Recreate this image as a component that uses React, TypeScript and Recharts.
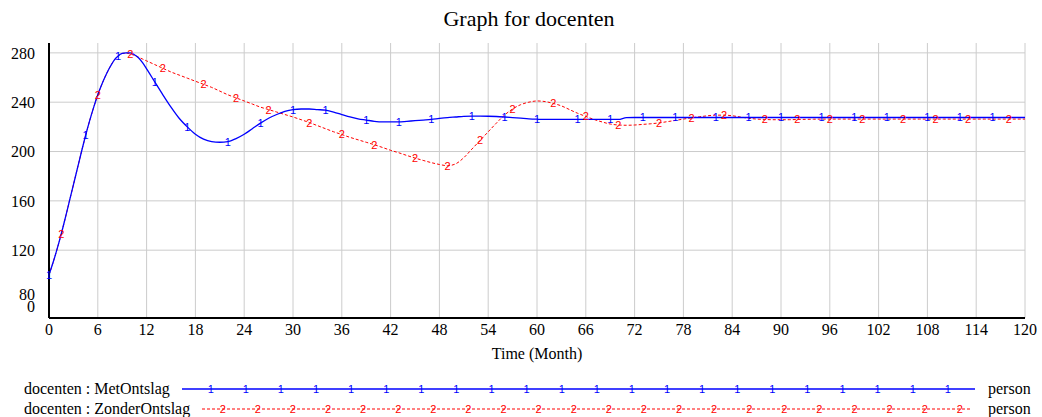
import React from "react";
import { LineChart, Line, XAxis, YAxis, CartesianGrid } from "recharts";

// time axis in months: half-month samples over the fast rise, then monthly
const months = [
  0, 0.5, 1, 1.5, 2, 2.5, 3, 3.5, 4, 4.5, 5, 5.5, 6, 6.5, 7, 7.5, 8, 8.5, 9, 9.5, 10, 10.5, 11, 11.5, 12,
  ...Array.from({ length: 108 }, (_, i) => 13 + i),
];

// docenten : MetOntslag (person)
const metOntslag = [
  100, 110, 121, 133, 146, 159.5, 173, 186.5, 200, 213, 225, 236, 246, 254.5, 262, 268.5, 274, 277.5, 279.5, 280, 280, 278.5, 276, 272, 267,
  256.5, 246, 236, 227, 220, 214, 210,
  208, 207.5, 208, 210.5, 214, 218.5, 223, 227, 230, 232.5,
  234, 234.5, 234.5, 234, 233.5, 232, 230, 228, 226.5, 225.5,
  224.5, 224, 224, 224, 224.5, 225, 225.5, 226, 226.8, 227.5,
  228, 228.5, 228.7, 228.7, 228.6, 228.4, 228, 227.5, 227, 226.5,
  226.2, 226, 226, 226, 226, 226, 226, 226, 226, 226,
  226, 227.5,
  227.6, 227.6, 227.6, 227.6, 227.6, 227.6, 227.6, 227.6, 227.6, 227.6,
  227.6, 227.6, 227.6, 227.6, 227.6, 227.6, 227.6, 227.6, 227.6, 227.6,
  227.6, 227.6, 227.6, 227.6, 227.6, 227.6, 227.6, 227.6, 227.6, 227.6,
  227.6, 227.6, 227.6, 227.6, 227.6, 227.6, 227.6, 227.6, 227.6, 227.6,
  227.6, 227.6, 227.6, 227.6, 227.6, 227.6, 227.6, 227.6, 227.6,
];

// docenten : ZonderOntslag (person)
const zonderOntslag = [
  100, 110, 121, 133, 146, 159.5, 173, 186.5, 200, 213, 225, 236, 246, 254.5, 262, 268.5, 274, 277.5, 279.5, 279.8, 279, 278, 276.5, 275, 273.5,
  270.5, 267.5, 264.5, 262, 259.5, 257, 254.5,
  252, 249, 246, 243.5, 241, 238.5, 236, 234, 232, 230,
  228, 225.8, 223.5, 221, 218.5, 216, 213.8, 211.5, 209.5, 207.5,
  205.5, 203.3, 201, 199, 196.8, 194.7, 192.8, 191, 189.5, 188.5,
  190, 195, 202, 209, 216, 223, 229.5, 234.5, 238, 240,
  241, 240.5, 239, 237, 234, 231, 228.5, 226, 224, 222.3,
  221.5, 221.3, 221.5, 222, 222.5, 223.2, 224.2, 225.2, 226.3, 227.3,
  228.2, 229, 229.5, 229.5, 229, 228, 227, 226.3, 226, 225.8,
  225.8, 225.8, 226, 226.1, 226.2, 226.3, 226.3, 226.3, 226.3, 226.3,
  226.3, 226.3, 226.3, 226.3, 226.3, 226.3, 226.3, 226.3, 226.3, 226.3,
  226.3, 226.3, 226.3, 226.3, 226.3, 226.3, 226.3, 226.3, 226.3, 226.3,
  226.3,
];

// months where the "1" / "2" line labels sit
const metMarks = [0, 4.5, 8.5, 13, 17, 22, 26, 30, 34, 39, 43, 47, 52, 56, 60, 65, 69, 73, 77, 82, 86, 90, 95, 99, 103, 108, 112, 116];
const zonderMarks = [1.5, 6, 10, 14, 19, 23, 27, 32, 36, 40, 45, 49, 53, 57, 62, 66, 70, 75, 79, 83, 88, 92, 96, 100, 105, 109, 113, 118];

const xTicks = [0, 6, 12, 18, 24, 30, 36, 42, 48, 54, 60, 66, 72, 78, 84, 90, 96, 102, 108, 114, 120];
const yTicks = [80, 120, 160, 200, 240, 280];
const yTickLabels = [["80", "0"], ["120"], ["160"], ["200"], ["240"], ["280"]];
const yGrid = [120, 160, 200, 240, 280];

const series = [
  { key: "met", name: "docenten : MetOntslag", unit: "person", color: "#0000ff", glyph: "1", marks: metMarks },
  { key: "zonder", name: "docenten : ZonderOntslag", unit: "person", color: "#ff0000", glyph: "2", marks: zonderMarks },
];

const data = months.map((t, i) => ({ t, met: metOntslag[i], zonder: zonderOntslag[i] }));

const serif = '"Liberation Serif", "Times New Roman", serif';
const sans = '"Liberation Sans", Arial, sans-serif';

const markerDot = (glyph: string, color: string, marks: number[]) => (props: any) => {
  const { cx, cy, index, payload } = props;
  if (!payload || !marks.includes(payload.t) || cx == null || cy == null) return <g key={`n-${glyph}-${index}`} />;
  return (
    <text key={`m-${glyph}-${index}`} x={cx} y={cy} dy="0.36em" textAnchor="middle" fontSize={11} fontFamily={sans} fill={color}>
      {glyph}
    </text>
  );
};

function YTick(props: any) {
  const { x, y, payload } = props;
  const lines = yTickLabels[yTicks.indexOf(payload.value)] ?? [String(payload.value)];
  if (lines.length === 2) {
    return (
      <g>
        <text x={x} y={y - 5.5} dy="0.36em" textAnchor="end" fontSize={16} fontFamily={serif} fill="#000">{lines[0]}</text>
        <text x={x} y={y + 6.5} dy="0.36em" textAnchor="end" fontSize={16} fontFamily={serif} fill="#000">{lines[1]}</text>
      </g>
    );
  }
  return (
    <text x={x} y={y} dy="0.36em" textAnchor="end" fontSize={16} fontFamily={serif} fill="#000">{lines[0]}</text>
  );
}

function LegendRows() {
  const rows = [
    { y: 389, x0: 182, x1: 975, first: 210.7, dash: undefined as string | undefined },
    { y: 409, x0: 202, x1: 972, first: 222.7, dash: "3 2" },
  ];
  return (
    <svg width={1042} height={47} style={{ position: "absolute", left: 0, top: 370 }} viewBox="0 370 1042 47">
      {series.map((s, r) => {
        const row = rows[r];
        const glyphs = [];
        for (let k = 0; row.first + k * 35.1 < row.x1 - 10; k++) {
          glyphs.push(
            <text key={k} x={row.first + k * 35.1} y={row.y} dy="0.36em" textAnchor="middle" fontSize={11} fontFamily={sans} fill={s.color}>
              {s.glyph}
            </text>
          );
        }
        return (
          <g key={s.key}>
            <text x={24} y={row.y + 5} fontSize={16} fontFamily={serif} fill="#000">{s.name}</text>
            <line x1={row.x0} x2={row.x1} y1={row.y} y2={row.y} stroke={s.color} strokeWidth={r === 0 ? 1.5 : 1} strokeDasharray={row.dash} />
            {glyphs}
            <text x={988} y={row.y + 5} fontSize={16} fontFamily={serif} fill="#000">{s.unit}</text>
          </g>
        );
      })}
    </svg>
  );
}

export default function App() {
  // red series first so the blue line sits on top where they coincide
  const drawOrder = [series[1], series[0]];
  return (
    <div style={{ position: "absolute", left: 0, top: 0, width: 1042, height: 417, background: "#fff", fontFamily: serif, overflow: "hidden" }}>
      <div style={{ position: "absolute", top: 8, left: 0, width: 1058, textAlign: "center", fontSize: 22, lineHeight: 1, color: "#000" }}>
        Graph for docenten
      </div>
      <LineChart width={1042} height={372} data={data} margin={{ top: 43, right: 17, bottom: 0, left: 0 }}>
        <CartesianGrid stroke="#cccccc" horizontalValues={yGrid} verticalValues={xTicks} />
        <XAxis
          dataKey="t"
          type="number"
          domain={[0, 120]}
          ticks={xTicks}
          interval={0}
          height={54}
          tickLine={false}
          tickSize={0}
          tickMargin={6}
          axisLine={{ stroke: "#000", strokeWidth: 2 }}
          tick={{ fontSize: 16, fontFamily: serif, fill: "#000" }}
          label={{ value: "Time (Month)", position: "insideBottom", offset: 13, fontSize: 16, fontFamily: serif, fill: "#000" }}
        />
        <XAxis xAxisId="top" orientation="top" dataKey="t" type="number" domain={[0, 120]} height={0} tick={false} tickLine={false} axisLine={{ stroke: "#000", strokeWidth: 2 }} />
        <YAxis
          type="number"
          domain={[65, 288]}
          allowDataOverflow
          ticks={yTicks}
          interval={0}
          width={49}
          tickLine={false}
          tickSize={0}
          tickMargin={14}
          axisLine={{ stroke: "#000", strokeWidth: 2 }}
          tick={<YTick />}
        />
        <YAxis yAxisId="right" orientation="right" type="number" domain={[65, 288]} width={0} tick={false} tickLine={false} axisLine={{ stroke: "#000", strokeWidth: 2 }} />
        {drawOrder.map((s) => (
          <Line
            key={s.key}
            dataKey={s.key}
            name={s.name}
            type="monotone"
            stroke={s.color}
            strokeWidth={s.key === "met" ? 1.3 : 1}
            strokeDasharray={s.key === "zonder" ? "3 2" : undefined}
            dot={markerDot(s.glyph, s.color, s.marks)}
            activeDot={false}
            isAnimationActive={false}
          />
        ))}
      </LineChart>
      <LegendRows />
    </div>
  );
}
